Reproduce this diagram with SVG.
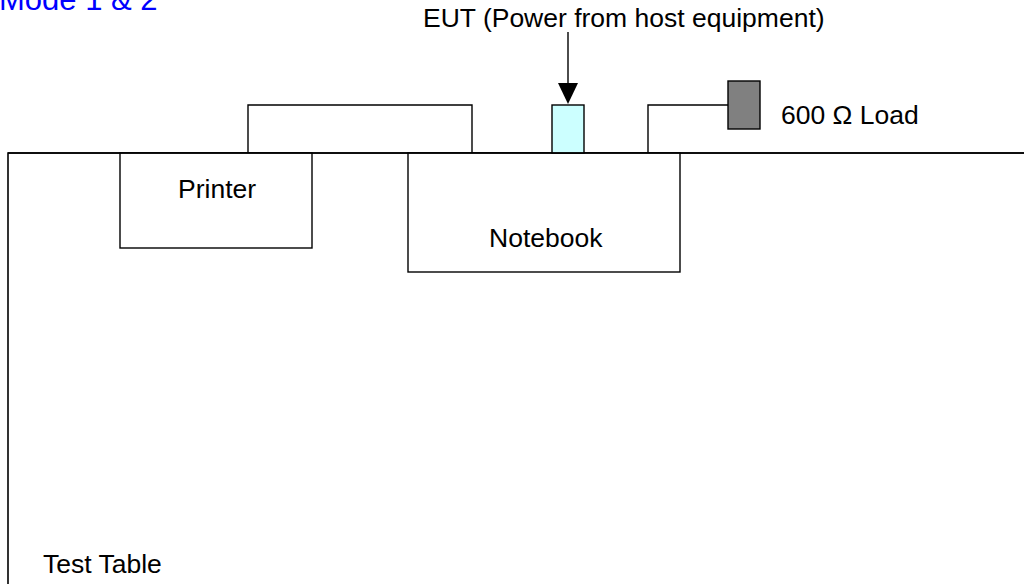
<svg xmlns="http://www.w3.org/2000/svg" width="1024" height="584" viewBox="0 0 1024 584">
<style>
text{font-family:"Liberation Sans",Arial,sans-serif;font-size:26.5px;fill:#000}
.box{fill:#fff;stroke:#000;stroke-width:1.4}
.wire{fill:none;stroke:#000;stroke-width:1.4}
</style>
<rect width="1024" height="584" fill="#fff"/>
<text x="-1" y="10" style="font-size:31px;fill:#0000ff">Mode 1 &amp; 2</text>
<g id="table">
<path d="M8,584 V153 H1024" class="wire" style="stroke-width:1.6"/>
<text x="43" y="573">Test Table</text>
</g>
<g id="connectors">
<path d="M248,153 V105 H472 V153" class="wire"/>
<path d="M648,153 V105 H728" class="wire"/>
<line x1="568" y1="32" x2="568" y2="84" class="wire"/>
<path d="M558,83 L578,83 L568,104 Z" fill="#000"/>
</g>
<g id="printer">
<rect x="120" y="153" width="192" height="95" class="box"/>
<text x="178" y="198">Printer</text>
</g>
<g id="notebook">
<rect x="408" y="153" width="272" height="119" class="box"/>
<text x="489" y="247">Notebook</text>
</g>
<g id="eut">
<rect x="552" y="105" width="32" height="48" class="box" style="fill:#ccffff"/>
<text x="423" y="27">EUT (Power from host equipment)</text>
</g>
<g id="load">
<rect x="728" y="81" width="32" height="48" class="box" style="fill:#808080"/>
<text x="781" y="124">600 Ω Load</text>
</g>
<line x1="8" y1="153" x2="1024" y2="153" class="wire" style="stroke-width:1.6"/>
</svg>
